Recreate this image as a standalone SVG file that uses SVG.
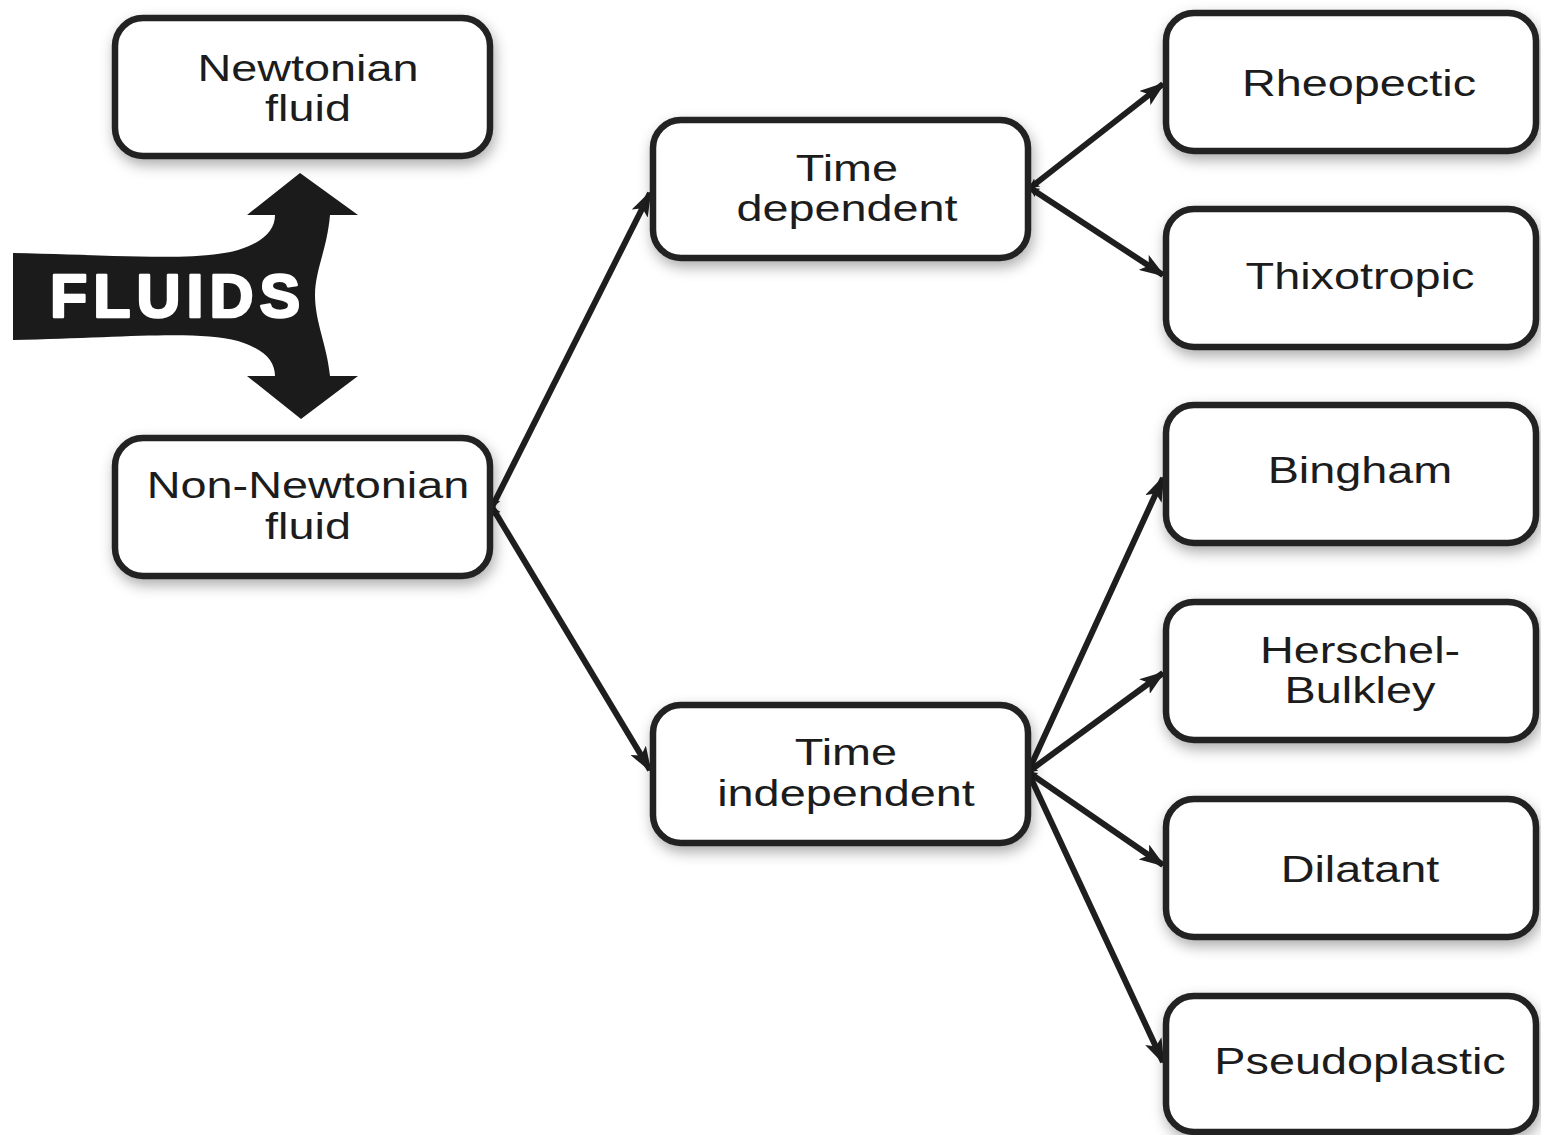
<svg xmlns="http://www.w3.org/2000/svg" width="1541" height="1135" viewBox="0 0 1541 1135">
<style>
.box{fill:#fff;stroke:#222;stroke-width:6.5;filter:url(#sh)}
.lbl{font-family:"Liberation Sans",Arial,sans-serif;font-size:36px;fill:#1c1c1c;text-anchor:middle}
.con{fill:none;stroke:#1e1e1e;stroke-width:6;marker-end:url(#ah);marker-start:url(#as)}
</style>
<defs>
<filter id="sh" x="-10%" y="-20%" width="125%" height="145%">
<feDropShadow dx="2" dy="6" stdDeviation="7" flood-color="#000" flood-opacity="0.32"/>
</filter>
<marker id="ah" viewBox="0 0 26 18" refX="23" refY="9" markerWidth="26" markerHeight="18" markerUnits="userSpaceOnUse" orient="auto">
<path d="M0,0 L26,9 L0,18 L6,9 Z" fill="#1e1e1e"/>
</marker>
<marker id="as" viewBox="0 0 10 10" refX="1" refY="5" markerWidth="10" markerHeight="10" markerUnits="userSpaceOnUse" orient="auto">
<path d="M0,5 L10,0 L8,5 L10,10 Z" fill="#1e1e1e"/>
</marker>
</defs>
<rect width="1541" height="1135" fill="#fff"/>

<g id="connectors">
<line class="con" x1="492" y1="507" x2="650" y2="193"/>
<line class="con" x1="492" y1="507" x2="650" y2="770"/>
<line class="con" x1="1030" y1="188" x2="1163" y2="84"/>
<line class="con" x1="1030" y1="188" x2="1163" y2="275"/>
<line class="con" x1="1028" y1="772" x2="1163" y2="478"/>
<line class="con" x1="1028" y1="772" x2="1163" y2="673"/>
<line class="con" x1="1028" y1="772" x2="1163" y2="865"/>
<line class="con" x1="1028" y1="772" x2="1163" y2="1062"/>
</g>

<g id="fluids">
<path d="M13,253 C120,255 195,262 238,250 C264,242 275,230 275,215 L247,215 L300,173 L358,215 L330,215 C327,250 315,270 315,295 C315,322 327,345 330,376 L358,376 L301,419 L247,376 L275,376 C275,361 264,349 238,341 C195,330 120,338 13,340 Z" fill="#1b1b1b"/>
<text x="50" y="317" font-family="'Liberation Sans',Arial,sans-serif" font-weight="bold" font-size="61" letter-spacing="6" fill="#fff" stroke="#fff" stroke-width="2.5" stroke-linejoin="round">FLUIDS</text>
</g>

<g id="newtonian">
<rect class="box" x="115" y="18" width="375" height="138" rx="28"/>
<text class="lbl" transform="translate(308 81) scale(1.3 1)">Newtonian<tspan x="0" dy="40">fluid</tspan></text>
</g>

<g id="non-newtonian">
<rect class="box" x="115" y="438" width="375" height="138" rx="28"/>
<text class="lbl" transform="translate(308 498) scale(1.3 1)">Non-Newtonian<tspan x="0" dy="41">fluid</tspan></text>
</g>

<g id="time-dependent">
<rect class="box" x="653" y="120" width="375" height="138" rx="28"/>
<text class="lbl" transform="translate(847 181) scale(1.3 1)">Time<tspan x="0" dy="40">dependent</tspan></text>
</g>

<g id="time-independent">
<rect class="box" x="653" y="705" width="375" height="138" rx="28"/>
<text class="lbl" transform="translate(846 765) scale(1.3 1)">Time<tspan x="0" dy="41">independent</tspan></text>
</g>

<g id="rheopectic">
<rect class="box" x="1166" y="13" width="370" height="138" rx="28"/>
<text class="lbl" transform="translate(1359 96) scale(1.3 1)">Rheopectic</text>
</g>

<g id="thixotropic">
<rect class="box" x="1166" y="209" width="370" height="138" rx="28"/>
<text class="lbl" transform="translate(1360 289) scale(1.3 1)">Thixotropic</text>
</g>

<g id="bingham">
<rect class="box" x="1166" y="405" width="370" height="138" rx="28"/>
<text class="lbl" transform="translate(1360 483) scale(1.3 1)">Bingham</text>
</g>

<g id="herschel-bulkley">
<rect class="box" x="1166" y="602" width="370" height="138" rx="28"/>
<text class="lbl" transform="translate(1360 663) scale(1.3 1)">Herschel-<tspan x="0" dy="40">Bulkley</tspan></text>
</g>

<g id="dilatant">
<rect class="box" x="1166" y="799" width="370" height="138" rx="28"/>
<text class="lbl" transform="translate(1360 882) scale(1.3 1)">Dilatant</text>
</g>

<g id="pseudoplastic">
<rect class="box" x="1166" y="996" width="370" height="136" rx="28"/>
<text class="lbl" transform="translate(1360 1074) scale(1.3 1)">Pseudoplastic</text>
</g>
</svg>
